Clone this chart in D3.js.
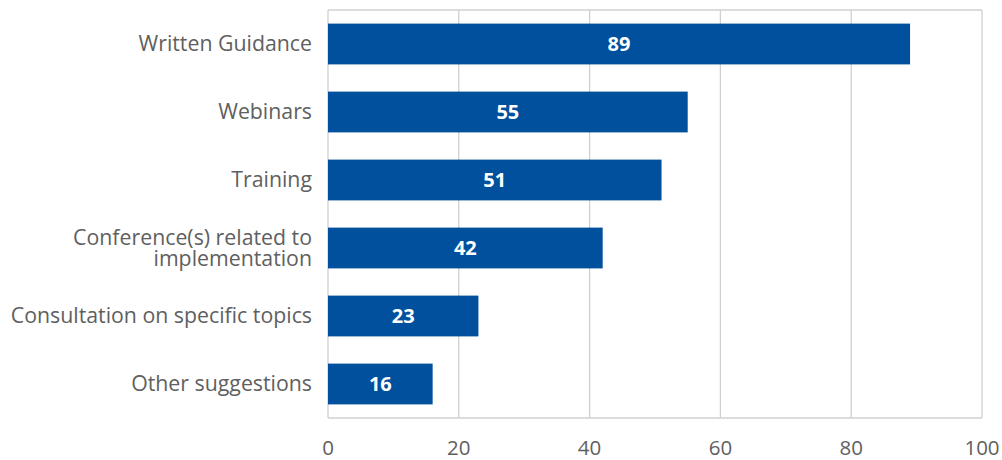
<!DOCTYPE html>
<html>
<head>
<meta charset="utf-8">
<script src="https://cdn.jsdelivr.net/npm/d3@7"></script>
<style>
  body { margin: 0; background: #fff; }
  text { font-family: "Open Sans", sans-serif; }
</style>
</head>
<body>
<svg id="chart" width="1002" height="460"></svg>
<script>
var categories = [
  ["Written Guidance"],
  ["Webinars"],
  ["Training"],
  ["Conference(s) related to", "implementation"],
  ["Consultation on specific topics"],
  ["Other suggestions"]
]
var values = [89, 55, 51, 42, 23, 16]
var ticks = [0, 20, 40, 60, 80, 100]

var svg = d3.select('svg#chart')
// note: "top" is window.top, so use other names
var plotLeft = 328, plotRight = 982, plotTop = 10, plotBottom = 418

var x = d3.scaleLinear().domain([0, 100]).range([plotLeft, plotRight])
var y = d3.scaleBand()
  .domain(d3.range(values.length))
  .range([plotTop, plotBottom])
  .paddingInner(0.4)
  .paddingOuter(0.2)

// grid lines
svg.append('g').selectAll('line')
  .data(ticks)
  .enter()
  .append('line')
  .attr('x1', function(d){ return x(d) })
  .attr('x2', function(d){ return x(d) })
  .attr('y1', plotTop)
  .attr('y2', plotBottom)
  .style('stroke', '#d0d0d0')
  .style('stroke-width', 1.3)

// frame top / bottom
svg.append('line')
  .attr('x1', plotLeft).attr('x2', plotRight).attr('y1', plotTop).attr('y2', plotTop)
  .style('stroke', '#d0d0d0').style('stroke-width', 1.3)
svg.append('line')
  .attr('x1', plotLeft).attr('x2', plotRight).attr('y1', plotBottom).attr('y2', plotBottom)
  .style('stroke', '#d0d0d0').style('stroke-width', 1.3)

// bars
svg.append('g').selectAll('rect')
  .data(values)
  .enter()
  .append('rect')
  .attr('x', x(0))
  .attr('y', function(d, i){ return y(i) })
  .attr('width', function(d){ return x(d) - x(0) })
  .attr('height', y.bandwidth())
  .style('fill', '#00509e')

// value labels
svg.append('g').selectAll('text')
  .data(values)
  .enter()
  .append('text')
  .attr('x', function(d){ return (x(d) + x(0)) / 2 })
  .attr('y', function(d, i){ return y(i) + y.bandwidth() / 2 })
  .attr('dy', '0.36em')
  .attr('text-anchor', 'middle')
  .style('fill', '#fff')
  .style('font-weight', 'bold')
  .style('font-size', '20px')
  .text(function(d){ return d })

// category labels
var cat = svg.append('g').selectAll('text')
  .data(categories)
  .enter()
  .append('text')
  .attr('text-anchor', 'end')
  .attr('x', plotLeft - 16)
  .attr('y', function(d, i){ return y(i) + y.bandwidth() / 2 })
  .style('fill', '#606060')
  .style('font-size', '21.3px')
cat.selectAll('tspan')
  .data(function(d){ return d.map(function(t, j){ return {t: t, j: j, n: d.length} }) })
  .enter()
  .append('tspan')
  .attr('x', plotLeft - 16)
  .attr('dy', function(d){
    if (d.j === 0) return (0.35 - (d.n - 1) * 0.5) + 'em'
    return '1.0em'
  })
  .text(function(d){ return d.t })

// x tick labels
svg.append('g').selectAll('text')
  .data(ticks)
  .enter()
  .append('text')
  .attr('x', function(d){ return x(d) })
  .attr('y', 455)
  .attr('text-anchor', 'middle')
  .style('fill', '#606060')
  .style('font-size', '20.5px')
  .text(function(d){ return d })
</script>
</body>
</html>
